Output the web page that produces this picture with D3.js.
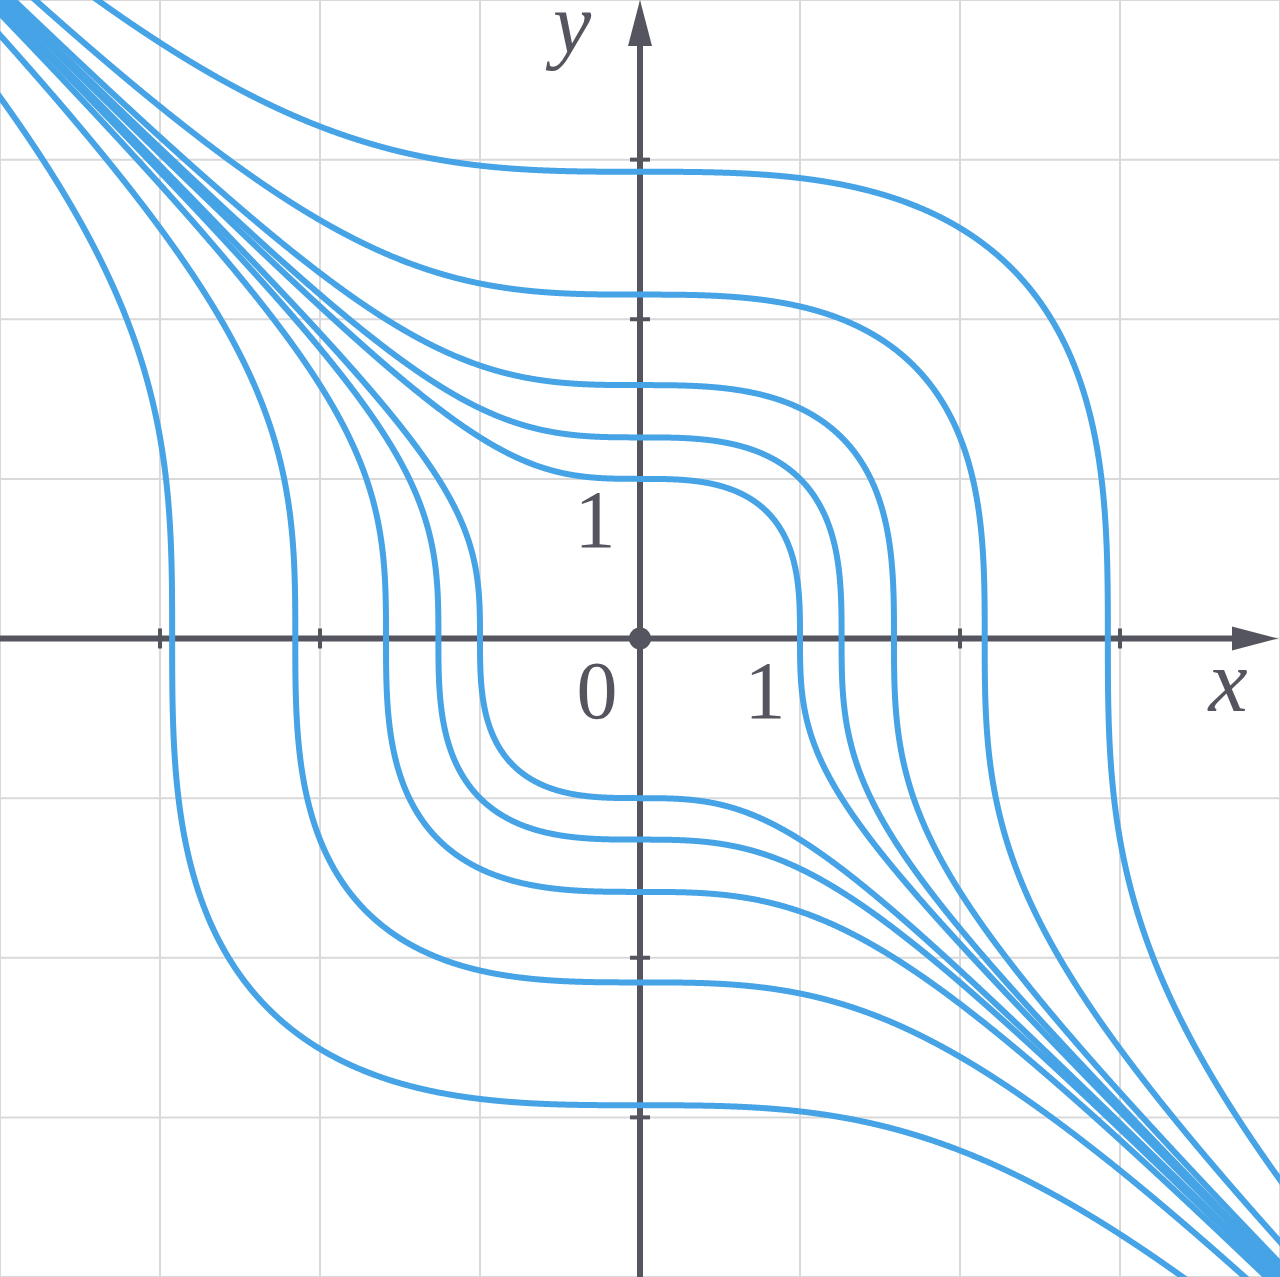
<!DOCTYPE html>
<html>
<head>
<meta charset="utf-8">
<script src="https://cdn.jsdelivr.net/npm/d3@7"></script>
<style>
html,body{margin:0;padding:0;background:#fff;overflow:hidden;}
svg{display:block;}
</style>
</head>
<body>
<svg id="chart" width="1280" height="1277"></svg>
<script>
// Level values c of the curves x^3 + y^3 = c
const levels = [-25, -10, -4, -2, -1, 1, 2, 4, 10, 25];
// Grid positions (units)
const gridValues = [-4, -3, -2, -1, 0, 1, 2, 3, 4];
// Axis tick positions
const xTicks = [-3, -2, 2, 3];
const yTicks = [-3, -2, 2, 3];
// Tick labels
const tickLabels = [
  {text: "1", axis: "x", value: 1},
  {text: "1", axis: "y", value: 1},
  {text: "0", axis: "o", value: 0}
];
const axisNames = {x: "x", y: "y"};

const W = 1280, H = 1277;
const x = d3.scaleLinear().domain([-4, 4]).range([0, W]);
const y = d3.scaleLinear().domain([4, -4]).range([0, H]);

const svg = d3.select("#chart");
const AX = "#55555f";
const BLUE = "#45a3e6";

// grid
const g = svg.append("g");
g.selectAll("line.gx").data(gridValues).join("line")
  .attr("x1", d => x(d)).attr("x2", d => x(d))
  .attr("y1", 0).attr("y2", H)
  .attr("stroke", "#d9d9d9").attr("stroke-width", 2);
g.selectAll("line.gy").data(gridValues).join("line")
  .attr("y1", d => y(d)).attr("y2", d => y(d))
  .attr("x1", 0).attr("x2", W)
  .attr("stroke", "#d9d9d9").attr("stroke-width", 2);

// axes
const ax = svg.append("g");
ax.append("line").attr("x1", 0).attr("x2", W - 46)
  .attr("y1", y(0)).attr("y2", y(0)).attr("stroke", AX).attr("stroke-width", 6);
ax.append("line").attr("x1", x(0)).attr("x2", x(0))
  .attr("y1", H).attr("y2", 44).attr("stroke", AX).attr("stroke-width", 6);
// arrows
ax.append("path")
  .attr("d", `M${W - 2},${y(0)} L${W - 48},${y(0) - 12} L${W - 48},${y(0) + 12} Z`)
  .attr("fill", AX);
ax.append("path")
  .attr("d", `M${x(0)},0 L${x(0) - 12},46 L${x(0) + 12},46 Z`)
  .attr("fill", AX);
// ticks
ax.selectAll("line.tx").data(xTicks).join("line")
  .attr("x1", d => x(d)).attr("x2", d => x(d))
  .attr("y1", y(0) - 10).attr("y2", y(0) + 10)
  .attr("stroke", AX).attr("stroke-width", 4);
ax.selectAll("line.ty").data(yTicks).join("line")
  .attr("y1", d => y(d)).attr("y2", d => y(d))
  .attr("x1", x(0) - 10).attr("x2", x(0) + 10)
  .attr("stroke", AX).attr("stroke-width", 4);
ax.append("circle").attr("cx", x(0)).attr("cy", y(0)).attr("r", 11).attr("fill", AX);

// curves x^3 + y^3 = c
function curvePoints(c) {
  const pts = [];
  const step = 0.004;
  for (let t = -4.4; t <= 4.4; t += step) {
    pts.push([t, Math.cbrt(c - t * t * t)]);
    pts.push([Math.cbrt(c - t * t * t), t]);
  }
  pts.sort((a, b) => (a[0] - a[1]) - (b[0] - b[1]));
  return pts.filter(p => Math.abs(p[0]) < 4.5 && Math.abs(p[1]) < 4.5);
}
const line = d3.line().x(d => x(d[0])).y(d => y(d[1]));
svg.append("defs").append("clipPath").attr("id", "clip")
  .append("rect").attr("x", 0).attr("y", 0).attr("width", W).attr("height", H);
svg.append("g").attr("clip-path", "url(#clip)")
  .selectAll("path").data(levels).join("path")
  .attr("d", c => line(curvePoints(c)))
  .attr("fill", "none").attr("stroke", BLUE).attr("stroke-width", 6)
  .attr("stroke-linejoin", "round");

// labels
const lab = svg.append("g").attr("fill", AX).attr("font-family", "'Liberation Serif', 'DejaVu Serif', serif");
tickLabels.forEach(l => {
  let px, py;
  if (l.axis === "x") { px = x(l.value) - 35; py = y(0) + 79; }
  else if (l.axis === "y") { px = x(0) - 45; py = y(l.value) + 68; }
  else { px = x(0) - 43; py = y(0) + 79; }
  lab.append("text").attr("x", px).attr("y", py).attr("text-anchor", "middle")
    .attr("font-size", 82).text(l.text);
});
lab.append("text").attr("x", 1228).attr("y", 711).attr("text-anchor", "middle")
  .attr("font-size", 88).attr("font-style", "italic").text(axisNames.x);
lab.append("text").attr("x", 572).attr("y", 52).attr("text-anchor", "middle")
  .attr("font-size", 86).attr("font-style", "italic").text(axisNames.y);
</script>
</body>
</html>
